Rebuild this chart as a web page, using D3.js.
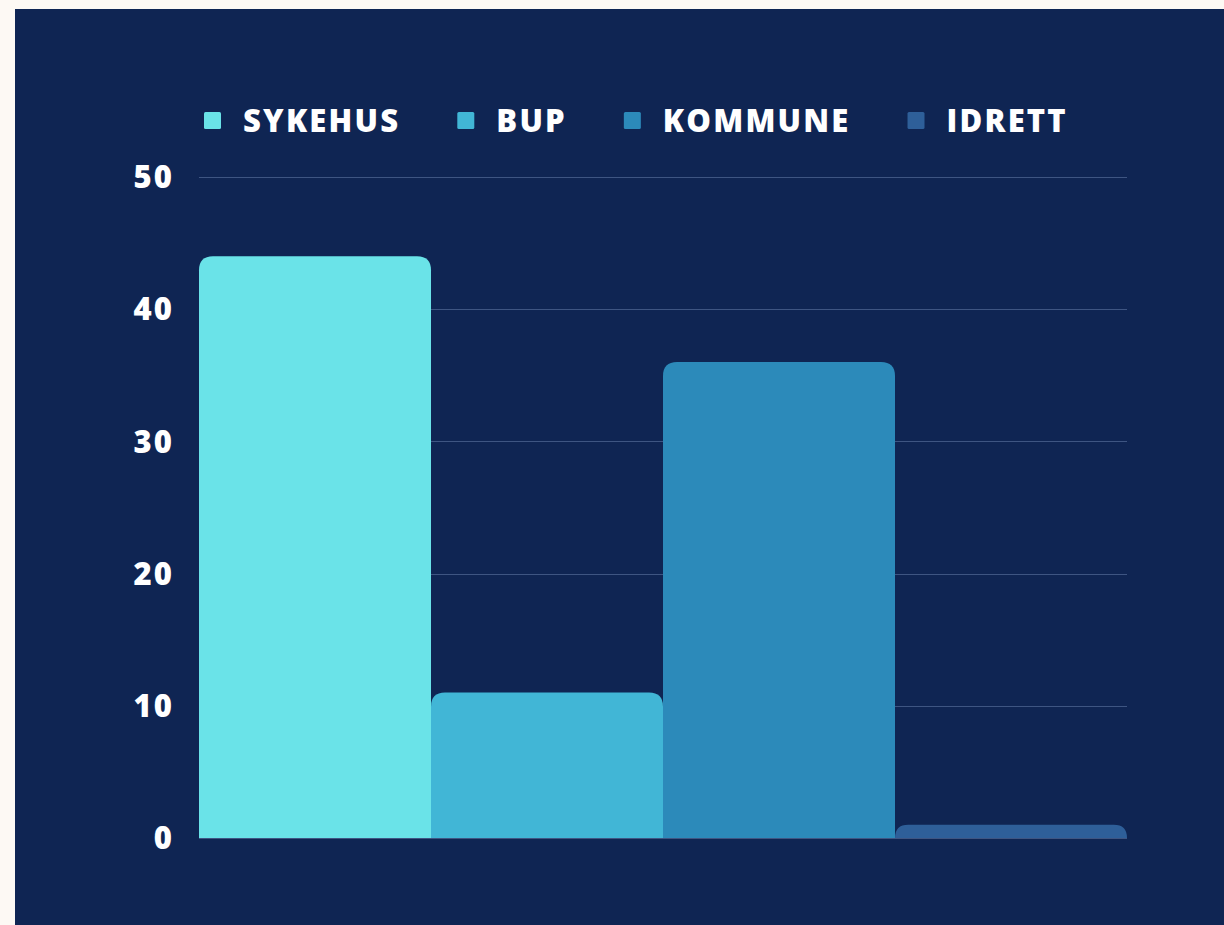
<!DOCTYPE html>
<html>
<head>
<meta charset="utf-8">
<script src="https://cdn.jsdelivr.net/npm/d3@7"></script>
<style>
  body { margin: 0; background: #fdf9f4; }
  svg { display: block; }
  text { font-family: "Open Sans", sans-serif; font-weight: 800; fill: #ffffff; }
</style>
</head>
<body>
<div id="chart"></div>
<script>
// data
var categories = ["SYKEHUS", "BUP", "KOMMUNE", "IDRETT"];
var values = [44, 11, 36, 1];
var colors = ["#6ae3e8", "#41b6d6", "#2c8aba", "#2e5f99"];
var yTicks = [0, 10, 20, 30, 40, 50];

var width = 1224;
var height = 925;
var margin = { top: 177, right: 97, bottom: 87, left: 199 };
var spacing = 2.2;
var fontSize = 31;

var svg = d3.select("#chart").append("svg")
  .attr("width", width)
  .attr("height", height);

// dark panel
svg.append("rect")
  .attr("x", 15).attr("y", 9)
  .attr("width", width - 15).attr("height", height - 9)
  .attr("fill", "#0f2553");

var x = d3.scaleBand().domain(categories).range([margin.left, width - margin.right]).padding(0);
var y = d3.scaleLinear().domain([0, 50]).range([height - margin.bottom, margin.top]);

// gridlines
svg.append("g").selectAll("line").data(yTicks).join("line")
  .attr("x1", margin.left).attr("x2", width - margin.right)
  .attr("y1", function (d) { return Math.round(y(d)) + 0.5; })
  .attr("y2", function (d) { return Math.round(y(d)) + 0.5; })
  .attr("stroke", "#3e5582").attr("stroke-width", 1);

// y tick labels
svg.append("g").selectAll("text").data(yTicks).join("text")
  .attr("x", 172 + spacing)
  .attr("y", function (d) { return y(d); })
  .attr("dy", "0.36em")
  .attr("text-anchor", "end")
  .attr("font-size", fontSize)
  .attr("letter-spacing", spacing)
  .text(function (d) { return d; });

// bars with rounded top corners
function barPath(x0, w, yTop, yBase, r) {
  r = Math.min(r, yBase - yTop, w / 2);
  return "M" + x0 + "," + yBase +
    "V" + (yTop + r) +
    "Q" + x0 + "," + yTop + " " + (x0 + r) + "," + yTop +
    "H" + (x0 + w - r) +
    "Q" + (x0 + w) + "," + yTop + " " + (x0 + w) + "," + (yTop + r) +
    "V" + yBase + "Z";
}

svg.append("g").selectAll("path").data(values).join("path")
  .attr("d", function (d, i) {
    return barPath(x(categories[i]), x.bandwidth(), y(d), y(0), 14);
  })
  .attr("fill", function (d, i) { return colors[i]; });

// legend
var legend = svg.append("g");
var lx = 204;
categories.forEach(function (c, i) {
  legend.append("rect")
    .attr("x", lx).attr("y", 112)
    .attr("width", 17).attr("height", 17)
    .attr("rx", 1.5)
    .attr("fill", colors[i]);
  var t = legend.append("text")
    .attr("x", lx + 39).attr("y", 131.5)
    .attr("font-size", fontSize)
    .attr("letter-spacing", spacing)
    .text(c);
  lx = lx + 39 + t.node().getComputedTextLength() + 57;
});
</script>
</body>
</html>
